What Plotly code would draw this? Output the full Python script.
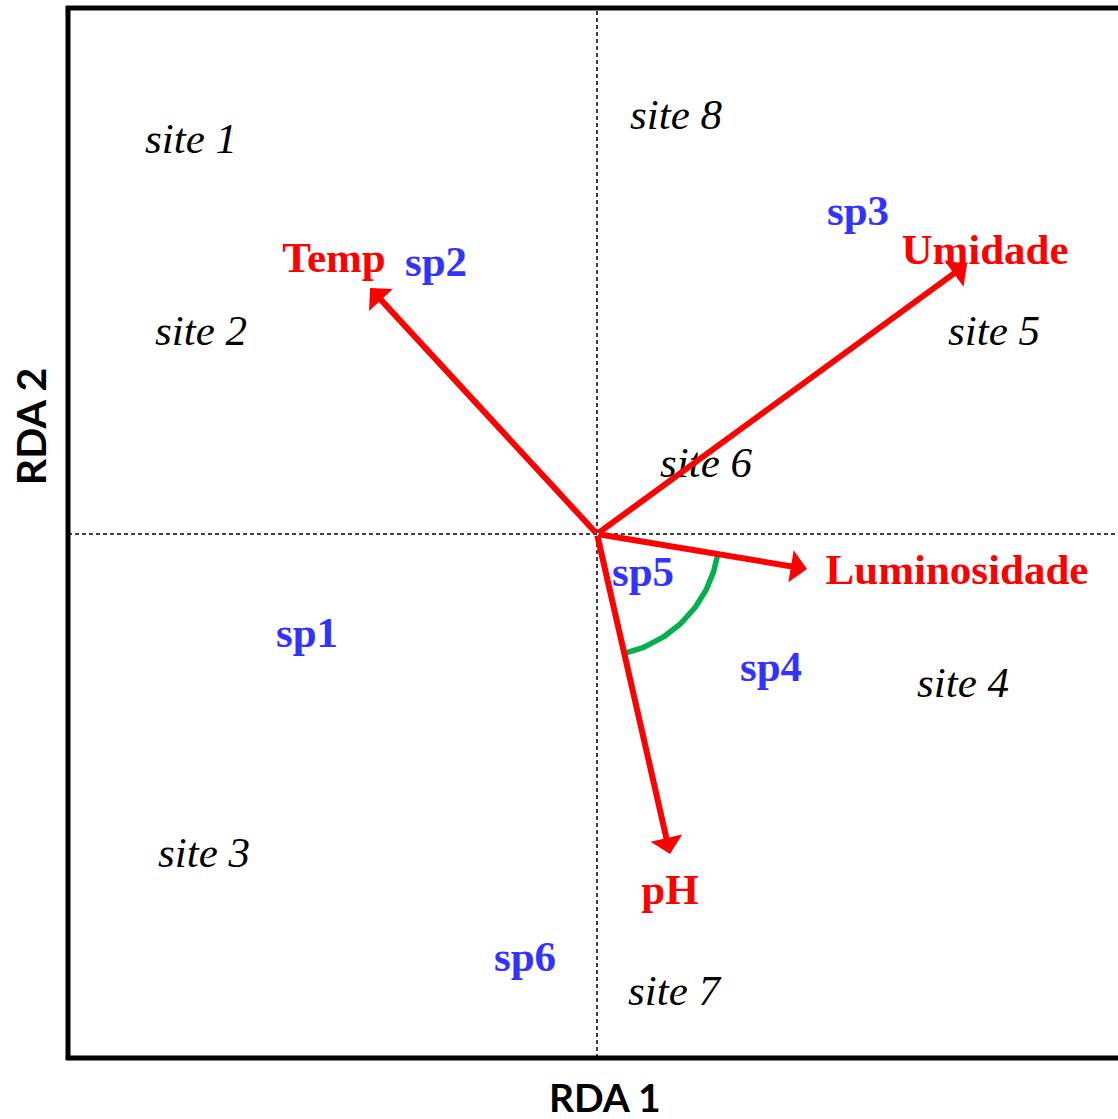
import numpy as np
import plotly.graph_objects as go

# Site scores (RDA1, RDA2)
site_names = ["site 1", "site 2", "site 3", "site 4", "site 5", "site 6", "site 7", "site 8"]
site_x = [-0.812, -0.792, -0.786, 0.732, 0.794, 0.218, 0.154, 0.158]
site_y = [0.784, 0.400, -0.644, -0.304, 0.400, 0.136, -0.920, 0.832]

# Species scores
sp_names = ["sp1", "sp2", "sp3", "sp4", "sp5", "sp6"]
sp_x = [-0.580, -0.322, 0.522, 0.348, 0.092, -0.144]
sp_y = [-0.204, 0.538, 0.640, -0.272, -0.082, -0.852]

# Environmental vectors (biplot arrows) and their label positions
env_names = ["Temp", "Umidade", "Luminosidade", "pH"]
env_x = [-0.454, 0.740, 0.420, 0.146]
env_y = [0.492, 0.540, -0.070, -0.640]
env_lab_x = [-0.526, 0.776, 0.720, 0.146]
env_lab_y = [0.546, 0.562, -0.078, -0.718]

RED = "#ff0000"
BLUE = "#3333ff"
GREEN = "#00b050"
SERIF = "Liberation Serif, Times New Roman, serif"
FS = 43

fig = go.Figure()

# Site labels (italic black)
fig.add_trace(go.Scatter(
    x=site_x, y=site_y, mode="text", text=site_names,
    textposition="middle center",
    textfont=dict(family=SERIF, size=FS, color="black", style="italic"),
    hoverinfo="skip", showlegend=False,
))

# Species labels (bold blue)
fig.add_trace(go.Scatter(
    x=sp_x, y=sp_y, mode="text", text=sp_names,
    textposition="middle center",
    textfont=dict(family=SERIF, size=FS, color=BLUE, weight="bold"),
    hoverinfo="skip", showlegend=False,
))

# Environmental variable labels (bold red)
fig.add_trace(go.Scatter(
    x=env_lab_x, y=env_lab_y, mode="text", text=env_names,
    textposition="middle center",
    textfont=dict(family=SERIF, size=FS, color=RED, weight="bold"),
    hoverinfo="skip", showlegend=False,
))

# Angle arc between Luminosidade and pH vectors
a0 = np.arctan2(env_y[2], env_x[2])
a1 = np.arctan2(env_y[3], env_x[3])
r = 0.245
theta = np.linspace(a0, a1, 60)
fig.add_trace(go.Scatter(
    x=r * np.cos(theta), y=r * np.sin(theta), mode="lines",
    line=dict(color=GREEN, width=5.5),
    hoverinfo="skip", showlegend=False,
))

# Arrows from the origin
for ex, ey in zip(env_x, env_y):
    fig.add_annotation(
        x=ex, y=ey, ax=0, ay=0, xref="x", yref="y", axref="x", ayref="y",
        text="", showarrow=True, arrowhead=1, arrowsize=0.9,
        arrowwidth=6, arrowcolor=RED, standoff=0, startstandoff=0,
    )

# Dashed zero lines
fig.add_shape(type="line", xref="x", yref="paper", x0=0, x1=0, y0=0, y1=1,
              line=dict(color="black", width=1.5, dash="4px,3px"), layer="below")
fig.add_shape(type="line", xref="paper", yref="y", x0=0, x1=1, y0=0, y1=0,
              line=dict(color="black", width=1.5, dash="4px,3px"), layer="below")

# Frame (left, top, bottom)
for x0, y0, x1, y1 in [(0, -0.002, 0, 1.002), (-0.002, 1, 1, 1), (-0.002, 0, 1, 0)]:
    fig.add_shape(type="line", xref="paper", yref="paper", x0=x0, y0=y0, x1=x1, y1=y1,
                  line=dict(color="black", width=5))

# Axis titles
fig.add_annotation(text="<b>RDA 1</b>", xref="paper", yref="paper", x=0.511, y=-0.037,
                   showarrow=False, yanchor="middle",
                   font=dict(family="Lato, Open Sans, sans-serif", size=39, color="black"))
fig.add_annotation(text="<b>RDA 2</b>", xref="paper", yref="paper", x=-0.035, y=0.601,
                   showarrow=False, textangle=-90, xanchor="center",
                   font=dict(family="Lato, Open Sans, sans-serif", size=41, color="black"))

fig.update_xaxes(range=[-1.058, 1.042], visible=False, fixedrange=True)
fig.update_yaxes(range=[-1.048, 1.052], visible=False, fixedrange=True)
fig.update_layout(
    width=1118, height=1119,
    margin=dict(l=68, r=0, t=8, b=61),
    paper_bgcolor="white", plot_bgcolor="white",
    showlegend=False,
)

fig.write_html("out.html")
